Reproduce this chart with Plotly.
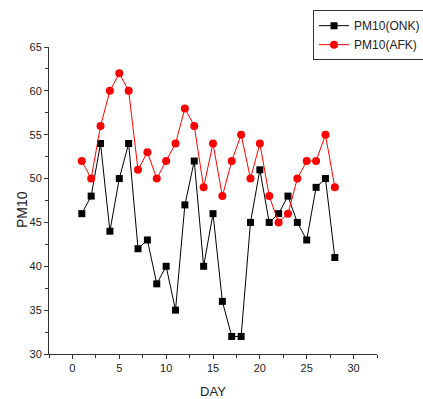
import plotly.graph_objects as go

days = list(range(1, 29))
onk = [46, 48, 54, 44, 50, 54, 42, 43, 38, 40, 35, 47, 52, 40, 46, 36, 32, 32, 45, 51, 45, 46, 48, 45, 43, 49, 50, 41]
afk = [52, 50, 56, 60, 62, 60, 51, 53, 50, 52, 54, 58, 56, 49, 54, 48, 52, 55, 50, 54, 48, 45, 46, 50, 52, 52, 55, 49]

fig = go.Figure()
fig.add_trace(go.Scatter(x=days, y=onk, mode="lines+markers", name="PM10(ONK)",
                         line=dict(color="black", width=1),
                         marker=dict(symbol="square", size=7, color="black")))
fig.add_trace(go.Scatter(x=days, y=afk, mode="lines+markers", name="PM10(AFK)",
                         line=dict(color="red", width=1),
                         marker=dict(symbol="circle", size=8, color="red")))

axis_common = dict(showline=True, linecolor="#333", linewidth=1, showgrid=False, zeroline=False,
                   ticks="outside", ticklen=4, tickcolor="#333", automargin=True,
                   tickfont=dict(family="Liberation Sans, Arial", size=11, color="#222"))
fig.update_xaxes(range=[-2.5, 32.5], dtick=5, tick0=0,
                 minor=dict(dtick=2.5, tick0=0, ticks="outside", ticklen=3, tickcolor="#333"),
                 title=dict(text="DAY", font=dict(family="Liberation Sans, Arial", size=13, color="#222"), standoff=14),
                 **axis_common)
fig.update_yaxes(range=[30, 65], dtick=5, tick0=30,
                 minor=dict(dtick=2.5, tick0=30, ticks="outside", ticklen=3, tickcolor="#333"),
                 **axis_common)
fig.add_annotation(text="PM10", textangle=-90, xref="paper", yref="paper",
                   x=-0.082, y=0.469, xanchor="center", yanchor="middle", showarrow=False,
                   font=dict(family="Liberation Sans, Arial", size=14, color="#222"))
fig.update_layout(width=423, height=399, margin=dict(l=49, r=46, t=47, b=45, autoexpand=False),
                  plot_bgcolor="white", paper_bgcolor="white",
                  legend=dict(x=0.805, y=1.12, xanchor="left", yanchor="top",
                              bordercolor="#333", borderwidth=1, bgcolor="white",
                              font=dict(family="Liberation Sans, Arial", size=12, color="#222"),
                              tracegroupgap=0, itemwidth=30),
                  showlegend=True)
fig.write_html("out.html")
